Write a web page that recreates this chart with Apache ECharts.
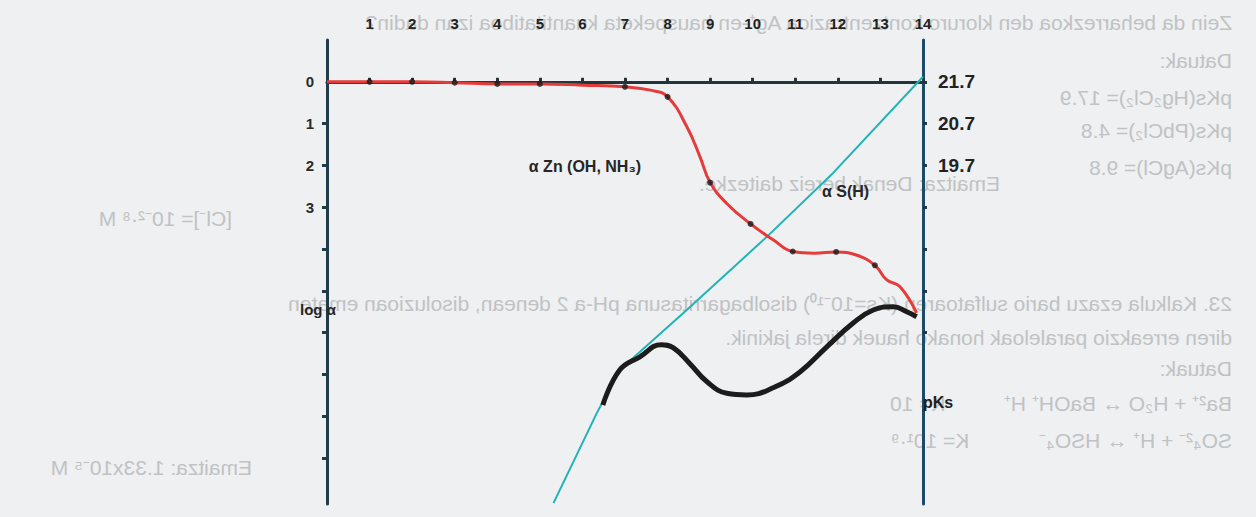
<!DOCTYPE html>
<html>
<head>
<meta charset="utf-8">
<script src="https://cdn.jsdelivr.net/npm/echarts@6/dist/echarts.min.js"></script>
<style>
  html, body { margin: 0; padding: 0; background: #eef0f1; }
  #chart { width: 1256px; height: 517px; }
</style>
</head>
<body>
<div id="chart"></div>
<script>
// ---- data ----
const phTickValues = [1, 2, 3, 4, 5, 6, 7, 8, 9, 10, 11, 12, 13, 14];
const logAlphaTickValues = [1, 2, 3, 4, 5, 6, 7, 8, 9];
const logAlphaLabelValues = [0, 1, 2, 3];
const pKsTickValues = [15.7, 16.7, 17.7, 18.7, 19.7, 20.7, 21.7];
const pKsLabelValues = [19.7, 20.7, 21.7];

// alpha Zn(OH, NH3): [pH, log alpha]
const zincCurve = [
  [0, 0], [1, 0], [2, 0], [3, 0.02], [4, 0.05], [5, 0.05], [6, 0.08], [7, 0.12],
  [7.6, 0.2], [8, 0.36], [8.45, 1.07], [8.76, 1.79], [9, 2.41], [9.39, 2.91],
  [9.95, 3.4], [10.48, 3.78], [10.94, 4.06], [11.45, 4.1], [11.96, 4.07],
  [12.45, 4.15], [12.87, 4.39], [13.15, 4.74], [13.46, 4.9], [13.85, 5.53]
];
const zincDots = [
  [1, 0], [2, 0], [3, 0.02], [4, 0.05], [5, 0.05], [7, 0.12], [8, 0.36],
  [9, 2.41], [9.95, 3.4], [10.94, 4.06], [11.96, 4.07], [12.87, 4.39]
];
// alpha S(H): [pH, log alpha]
const sulfideLine = [
  [5.32, 10.08], [6.34, 7.92], [6.88, 6.89], [8.45, 5.46], [10.33, 3.71],
  [11.89, 2.18], [14, -0.12]
];
// conditional pKs: [pH, pKs]
const pKsCurve = [
  [6.48, 13.97], [6.88, 14.81], [7.35, 15.12], [7.85, 15.41], [8.13, 15.34],
  [8.53, 14.95], [8.92, 14.53], [9.39, 14.25], [9.86, 14.21], [10.48, 14.38],
  [11.11, 14.76], [11.74, 15.36], [12.36, 15.93], [12.83, 16.24], [13.3, 16.32],
  [13.62, 16.2], [13.85, 16.08]
];
// faint show-through text from the back of the page (mirrored)
const backTextRight = [
  'Zein da beharrezkoa den kloruro kontzentrazioa Ag⁺-en hauspeketa kuantitatiboa izan dadin?',
  'Datuak:',
  'pKs(Hg₂Cl₂)= 17.9',
  'pKs(PbCl₂)= 4.8',
  'pKs(AgCl)= 9.8',
  '23. Kalkula ezazu bario sulfatoaren (Ks=10⁻¹⁰) disolbagarritasuna pH-a 2 denean, disoluzioan ematen',
  'diren erreakzio paraleloak honako hauek direla jakinik.',
  'Datuak:',
  'Ba²⁺ + H₂O ↔ BaOH⁺ H⁺          K= 10',
  'SO₄²⁻ + H⁺ ↔ HSO₄⁻            K= 10¹·⁹'
];
const backTextLeft = [
  'Emaitza: Denak bereiz daitezke.',
  '[Cl⁻]= 10⁻²·⁸ M',
  'Emaitza: 1.33x10⁻⁵ M'
];

const FONT = '"Liberation Sans", Arial, sans-serif';
const INK = '#222';

const chart = echarts.init(document.getElementById('chart'), null, { renderer: 'svg' });

chart.setOption({
  backgroundColor: '#eef0f1',
  animation: false,
  grid: { left: 327, right: 333, top: 40, bottom: 13 },
  xAxis: {
    type: 'value', position: 'top', min: 0, max: 14, interval: 1,
    axisLine: { show: true, lineStyle: { color: '#24343b', width: 3 } },
    axisTick: { show: true, customValues: phTickValues, length: 4, lineStyle: { color: '#24343b', width: 3 } },
    axisLabel: { customValues: phTickValues, margin: 9, color: INK, fontWeight: 'bold', fontSize: 15, fontFamily: FONT },
    splitLine: { show: false }
  },
  yAxis: [
    {
      type: 'value', position: 'left', inverse: true, min: -1, max: 10.1, interval: 1,
      axisLine: { show: true, lineStyle: { color: '#1f3c48', width: 3 } },
      axisTick: { show: true, customValues: logAlphaTickValues, length: 5, lineStyle: { color: '#1f3c48', width: 3 } },
      axisLabel: { customValues: logAlphaLabelValues, margin: 13, color: '#2a2a2a', fontWeight: 'bold', fontSize: 15, fontFamily: FONT },
      splitLine: { show: false }
    },
    {
      type: 'value', position: 'right', min: 11.6, max: 22.7,
      axisLine: { show: true, lineStyle: { color: '#1d4a66', width: 3 } },
      axisTick: { show: true, customValues: pKsTickValues, length: 4, lineStyle: { color: '#1d3a4d', width: 3 } },
      axisLabel: { customValues: pKsLabelValues, margin: 15, color: INK, fontWeight: 'bold', fontSize: 19, fontFamily: FONT,
                   formatter: v => v.toFixed(1) },
      splitLine: { show: false }
    }
  ],
  series: [
    {
      name: 'α S(H)', type: 'line', yAxisIndex: 0, data: sulfideLine,
      showSymbol: false, lineStyle: { color: '#22b3b8', width: 2 }, z: 2
    },
    {
      name: 'α Zn (OH, NH3)', type: 'line', yAxisIndex: 0, data: zincCurve,
      smooth: 0.45, showSymbol: false,
      lineStyle: { color: '#e53b3b', width: 3 }, z: 3
    },
    {
      name: 'pKs', type: 'line', yAxisIndex: 1, data: pKsCurve,
      smooth: 0.45, showSymbol: false,
      lineStyle: { color: '#1c1c1c', width: 5 }, z: 4
    },
    {
      name: 'zinc points', type: 'scatter', yAxisIndex: 0, data: zincDots,
      symbolSize: 6, itemStyle: { color: '#1b1b1b' }, z: 5
    }
  ]
});

function px(axis, pt) {
  return chart.convertToPixel({ xAxisIndex: 0, yAxisIndex: axis }, pt);
}
const labelStyle = { fill: '#262626', font: 'bold 16px ' + FONT };
const zn = px(0, [6.06, 2.03]);
const sh = px(0, [12.18, 2.62]);
const lg = px(0, [0, 5.45]);
const pk = px(1, [14, 14.02]);

const backRows = [22, 60, 97, 130, 167, 303, 337, 368, 403, 440];
const backLeftPos = [[1000, 183], [232, 218], [252, 467]];
const graphics = [];
backTextRight.forEach((t, i) => {
  graphics.push({ type: 'text', x: 1232, y: backRows[i], scaleX: -1, silent: true, z: -5,
    style: { text: t, x: 0, y: 0, textAlign: 'left', textVerticalAlign: 'middle', fill: '#c0c2c4', font: '21px ' + FONT } });
});
backTextLeft.forEach((t, i) => {
  graphics.push({ type: 'text', x: backLeftPos[i][0], y: backLeftPos[i][1], scaleX: -1, silent: true, z: -5,
    style: { text: t, x: 0, y: 0, textAlign: 'left', textVerticalAlign: 'middle', fill: '#c0c2c4', font: '21px ' + FONT } });
});
graphics.push(
  { type: 'text', x: zn[0], y: zn[1], z: 10, style: Object.assign({ text: 'α Zn (OH, NH₃)', textAlign: 'center', textVerticalAlign: 'middle' }, labelStyle) },
  { type: 'text', x: sh[0], y: sh[1], z: 10, style: Object.assign({ text: 'α S(H)', textAlign: 'center', textVerticalAlign: 'middle' }, labelStyle) },
  { type: 'text', x: lg[0] - 27, y: lg[1], z: 10, style: { text: 'log α', textAlign: 'left', textVerticalAlign: 'middle', fill: '#262626', font: 'bold 15px ' + FONT } },
  { type: 'text', x: pk[0], y: pk[1], z: 10, style: { text: 'pKs', textAlign: 'left', textVerticalAlign: 'middle', fill: '#1e1e1e', font: 'bold 16px ' + FONT } }
);
chart.setOption({ graphic: graphics });
</script>
</body>
</html>
